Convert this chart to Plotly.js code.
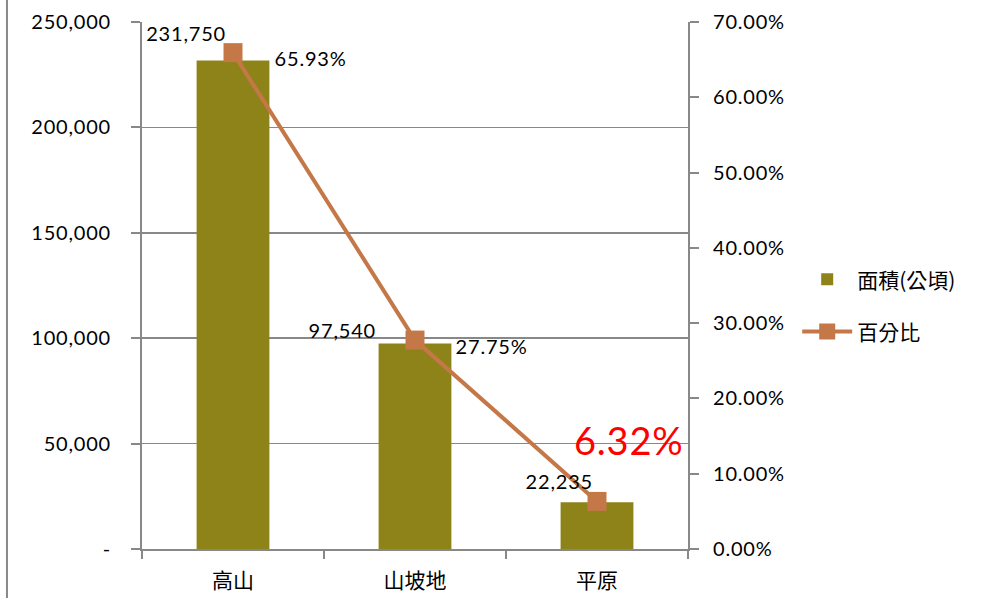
<!DOCTYPE html>
<html>
<head>
<meta charset="utf-8">
<script src="https://cdn.plot.ly/plotly-3.0.1.min.js"></script>
<style>
html,body{margin:0;padding:0;background:#fff;}
#chart{width:994px;height:598px;}
#chart .ytick text, #chart .y2tick text, #chart .annotation-text{letter-spacing:0.8px;}
</style>
</head>
<body>
<div id="chart"></div>
<script>
const categories = ['高山', '山坡地', '平原'];
const areaValues = [231750, 97540, 22235];
const percentValues = [0.6593, 0.2775, 0.0632];
const areaLabels = ['231,750', '97,540', '22,235'];
const percentLabels = ['65.93%', '27.75%', '6.32%'];
const leftTickVals = [0, 50000, 100000, 150000, 200000, 250000];
const leftTickText = ['-', '50,000', '100,000', '150,000', '200,000', '250,000'];
const rightTickVals = [0, 0.1, 0.2, 0.3, 0.4, 0.5, 0.6, 0.7];
const rightTickText = ['0.00%', '10.00%', '20.00%', '30.00%', '40.00%', '50.00%', '60.00%', '70.00%'];
const seriesNames = ['面積(公頃)', '百分比'];

const barColor = '#8E8318';
const lineColor = '#C47848';
const axisGray = '#888888';
const numFont = 'Lato, "Open Sans", sans-serif';
const cjkFont = '"Noto Sans CJK TC", "Noto Sans CJK SC", sans-serif';

const areaShifts = [[-47, 27], [-73, 13], [-38, 21]];
const pctShifts = [[77, -5], [76, -6], [32, 61]];

const annotations = [];
categories.forEach((c, i) => {
  annotations.push({
    x: c, y: areaValues[i], xref: 'x', yref: 'y', text: areaLabels[i],
    showarrow: false, xshift: areaShifts[i][0], yshift: areaShifts[i][1],
    font: {family: numFont, size: 20, color: '#000'}
  });
  const isLast = i === categories.length - 1;
  annotations.push({
    x: c, y: percentValues[i], xref: 'x', yref: 'y2', text: percentLabels[i],
    showarrow: false, xshift: pctShifts[i][0], yshift: pctShifts[i][1],
    font: {family: numFont, size: isLast ? 38 : 20, color: isLast ? '#FF0000' : '#000'}
  });
});

const data = [
  {
    type: 'bar', x: categories, y: areaValues, name: seriesNames[0],
    marker: {color: barColor}, width: 0.4, yaxis: 'y', hoverinfo: 'skip',
    legendgroup: 'a'
  },
  {
    type: 'scatter', mode: 'lines+markers', x: categories, y: percentValues, name: seriesNames[1],
    line: {color: lineColor, width: 4}, marker: {symbol: 'square', size: 19, color: lineColor},
    yaxis: 'y2', hoverinfo: 'skip', legendgroup: 'b'
  }
];

const layout = {
  width: 994, height: 598,
  margin: {l: 142, r: 306, t: 22, b: 49},
  paper_bgcolor: '#fff', plot_bgcolor: '#fff',
  showlegend: true,
  legend: {
    x: 1.2, y: 0.55, xanchor: 'left', yanchor: 'top',
    font: {family: cjkFont, size: 21, color: '#000'},
    itemwidth: 50, traceorder: 'grouped', tracegroupgap: 22, bgcolor: 'rgba(0,0,0,0)'
  },
  xaxis: {
    type: 'category', showline: true, linecolor: axisGray, linewidth: 2,
    ticks: 'outside', tickson: 'boundaries', ticklen: 8, tickcolor: axisGray, tickwidth: 2,
    tickfont: {family: cjkFont, size: 21, color: '#000'}, showgrid: false,
    range: [-0.5, 2.5], ticklabelstandoff: 12
  },
  yaxis: {
    range: [0, 250000], tickvals: leftTickVals, ticktext: leftTickText,
    showline: true, linecolor: axisGray, linewidth: 2,
    ticks: 'outside', ticklen: 9, tickcolor: axisGray, tickwidth: 2,
    showgrid: true, gridcolor: axisGray, gridwidth: 1.5, zeroline: false,
    tickfont: {family: numFont, size: 20, color: '#000'}, ticklabelstandoff: 16
  },
  yaxis2: {
    range: [0, 0.7], tickvals: rightTickVals, ticktext: rightTickText,
    overlaying: 'y', side: 'right', anchor: 'x',
    showline: true, linecolor: axisGray, linewidth: 2,
    ticks: 'outside', ticklen: 9, tickcolor: axisGray, tickwidth: 2,
    showgrid: false, zeroline: false,
    tickfont: {family: numFont, size: 20, color: '#000'}, ticklabelstandoff: 10
  },
  shapes: [
    {type: 'line', xref: 'paper', yref: 'paper', x0: -0.2473, x1: -0.2473, y0: -0.2, y1: 1.1,
     line: {color: axisGray, width: 2}}
  ],
  annotations: annotations
};

Plotly.newPlot('chart', data, layout, {displayModeBar: false, staticPlot: true});
</script>
</body>
</html>
